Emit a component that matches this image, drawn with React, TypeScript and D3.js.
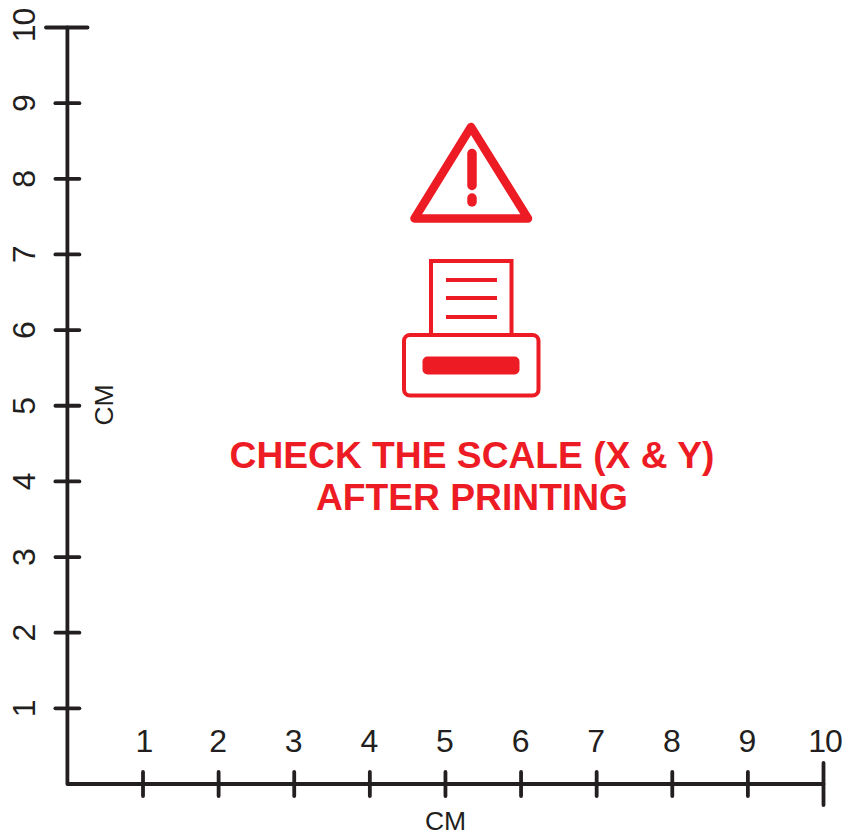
import React from "react";
import * as d3 from "d3";

const xTicks = [1, 2, 3, 4, 5, 6, 7, 8, 9, 10];
const yTicks = [1, 2, 3, 4, 5, 6, 7, 8, 9, 10];
const axisLabel = "CM";
const warningLines = ["CHECK THE SCALE (X & Y)", "AFTER PRINTING"];
const paperLineY = [280, 298, 317];

const INK = "#231f20";
const RED = "#ed1c24";
const FONT = "'Liberation Sans', Arial, sans-serif";

export default function App() {
  const x = d3.scaleLinear().domain([0, 10]).range([67.4, 823.5]);
  const y = d3.scaleLinear().domain([0, 10]).range([784, 27.5]);
  const sw = 3.8;
  return (
    <svg width={844} height={834} viewBox="0 0 844 834" style={{ position: "absolute", left: 0, top: 0, background: "#fff" }}>
      <g stroke={INK} strokeWidth={sw} strokeLinecap="round" fill="none">
        <path d={`M${x(0)},${y(10)}V${y(0)}H${x(10)}`} strokeLinejoin="round" />
        {xTicks.map((t) => {
          const half = t === 10 ? 21 : 12;
          return <line key={t} x1={x(t)} x2={x(t)} y1={y(0) - half} y2={y(0) + half} />;
        })}
        {yTicks.map((t) => (
          t === 10
            ? <line key={t} x1={46} x2={87.5} y1={y(t)} y2={y(t)} />
            : <line key={t} x1={x(0) - 12} x2={x(0) + 12} y1={y(t)} y2={y(t)} />
        ))}
      </g>
      <g fill={INK} fontFamily={FONT} fontSize={32} letterSpacing={-1} textAnchor="middle">
        {xTicks.map((t) => (
          <text key={t} x={t === 10 ? x(t) + 1.5 : t === 1 ? x(t) + 1 : x(t) - 1} y={752}>{t}</text>
        ))}
        {yTicks.map((t) => (
          <text key={t} transform={`translate(34.5,${t === 10 ? y(t) - 2 : y(t) + 0.5}) rotate(-90)`}>{t}</text>
        ))}
      </g>
      <text x={445.5} y={829.5} fill={INK} fontFamily={FONT} fontSize={26.5} textAnchor="middle">{axisLabel}</text>
      <text transform="translate(113,405) rotate(-90)" fill={INK} fontFamily={FONT} fontSize={26.5} textAnchor="middle">{axisLabel}</text>

      <g fill="none" stroke={RED}>
        <path d="M471,127L414.5,218.5H528Z" strokeWidth={8.5} strokeLinejoin="round" />
        <line x1={472} x2={472} y1={153.5} y2={185.5} strokeWidth={9.5} strokeLinecap="round" />
        <line x1={472} x2={472} y1={198} y2={202} strokeWidth={9.5} strokeLinecap="round" />
        <path d="M431,335V261H511.5V335" strokeWidth={4} />
        {paperLineY.map((ly) => (
          <line key={ly} x1={446} x2={497} y1={ly} y2={ly} strokeWidth={4} />
        ))}
        <rect x={404} y={335} width={134.5} height={60.5} rx={6} strokeWidth={4} />
      </g>
      <rect x={422.5} y={356.5} width={97} height={18} rx={5} fill={RED} />
      <g fill={RED} fontFamily={FONT} fontWeight="bold" fontSize={37.2} textAnchor="middle">
        <text x={472} y={468}>{warningLines[0]}</text>
        <text x={472} y={510}>{warningLines[1]}</text>
      </g>
    </svg>
  );
}
